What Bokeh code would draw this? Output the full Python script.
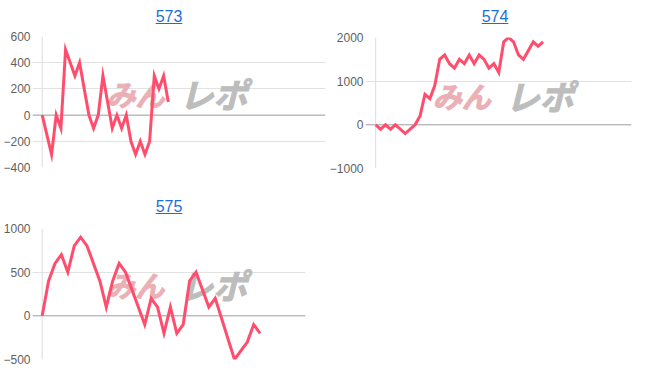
from bokeh.plotting import figure
from bokeh.models import Range1d, FixedTicker, Span, Label, Div
from bokeh.layouts import column, row
from bokeh.embed import file_html
from bokeh.resources import INLINE

# ---------------- data ----------------
titles = ["573", "574", "575"]

x573 = [0, 2, 3, 4, 5, 7, 8, 10, 11, 12, 13, 15, 16, 17, 18, 19, 20, 21, 22, 23, 24, 25, 26, 27]
y573 = [0, -300, 0, -100, 500, 300, 400, 0, -100, 0, 300, -100, 0, -100, 0, -200, -300, -200, -300, -200, 300, 200, 300, 100]
ticks573 = [-400, -200, 0, 200, 400, 600]

x574 = [0, 1, 2, 3, 4, 6, 7, 8, 9, 10, 11, 12, 13, 14, 15, 16, 17, 18, 19, 20, 21, 22, 23, 24, 25, 26, 27, 28, 29, 30, 32, 33, 34]
y574 = [0, -100, 0, -100, 0, -200, -100, 0, 200, 700, 600, 900, 1500, 1600, 1400, 1300, 1500, 1400, 1600, 1400, 1600, 1500, 1300, 1400, 1200, 1900, 2000, 1900, 1600, 1500, 1900, 1800, 1900]
ticks574 = [-1000, 0, 1000, 2000]

x575 = [0, 1, 2, 3, 4, 5, 6, 7, 8, 9, 10, 11, 12, 13, 14, 15, 16, 17, 18, 19, 20, 21, 22, 23, 24, 26, 27, 30, 32, 33, 34]
y575 = [0, 400, 600, 700, 500, 800, 900, 800, 600, 400, 100, 400, 600, 500, 300, 100, -100, 200, 100, -200, 100, -200, -100, 400, 500, 100, 200, -500, -300, -100, -200]
ticks575 = [-500, 0, 500, 1000]

LINE = "#ff4d6d"
GRID = "#e2e2e2"
ZERO = "#a6a6a6"
LABEL = "#5f5f5f"


def title_div(t):
    html = (
        '<div style="width:326px;height:30px;box-sizing:border-box;text-align:center;'
        'padding-left:12px;padding-top:6px;">'
        '<a href="#" style="font-family:\'Liberation Sans\',Arial,sans-serif;font-size:16px;'
        f'color:#1a6fd6;text-decoration:underline;">{t}</a></div>'
    )
    return Div(text=html, width=326, height=30, margin=0)


def make_chart(xs, ys, ticks, xr, height, left, right, top, wm):
    ymin, ymax = min(ticks), max(ticks)
    p = figure(width=326, height=height, x_range=Range1d(*xr), y_range=Range1d(ymin, ymax),
               output_backend="svg", toolbar_location=None, x_axis_location=None,
               min_border_left=left, min_border_right=right, min_border_top=top,
               min_border_bottom=height - top - 131)
    p.outline_line_color = None
    p.background_fill_color = "white"
    p.border_fill_color = "white"
    p.xgrid.visible = False
    p.ygrid.grid_line_color = GRID
    yaxis = p.yaxis[0]
    yaxis.ticker = FixedTicker(ticks=ticks)
    yaxis.axis_line_color = None
    yaxis.major_tick_line_color = None
    yaxis.minor_tick_line_color = None
    yaxis.major_tick_out = 0
    yaxis.minor_tick_out = 0
    yaxis.major_tick_in = 0
    yaxis.minor_tick_in = 0
    yaxis.major_label_standoff = 2
    yaxis.major_label_text_color = LABEL
    yaxis.major_label_text_font = "Liberation Sans"
    yaxis.major_label_text_font_size = "12px"

    p.add_layout(Span(location=0, dimension="height", line_color="#dcdcdc", line_width=1, level="underlay"))
    p.add_layout(Span(location=0, dimension="width", line_color=ZERO, line_width=1, level="underlay"))

    wx, wy = wm
    p.add_layout(Label(x=wx, y=wy, x_offset=-2, text="みん", text_font="Noto Sans CJK JP", text_font_size="29px",
                       text_font_style="bold italic", text_color="#eab0b5",
                       text_outline_color="#eab0b5",
                       text_baseline="middle", level="underlay"))
    p.add_layout(Label(x=wx, y=wy, x_offset=71, text="レポ", text_font="Noto Sans CJK JP", text_font_size="34px",
                       text_font_style="bold italic", text_color="#bdbdbd",
                       text_outline_color="#bdbdbd",
                       text_baseline="middle", level="underlay"))

    p.line(xs, ys, line_color=LINE, line_width=3, line_join="miter")
    return p


p573 = make_chart(x573, y573, ticks573, (-2.08, 60.66), 160, 32, 1, 6, (14.2, 168))
p574 = make_chart(x574, y574, ticks574, (-2.07, 51.95), 160, 36, 21, 7, (12.0, 677))
p575 = make_chart(x575, y575, ticks575, (-1.51, 41.08), 162, 32, 21, 8, (10.3, 359))

layout = column(
    row(column(title_div(titles[0]), p573, spacing=0), column(title_div(titles[1]), p574, spacing=0), spacing=0),
    column(title_div(titles[2]), p575, spacing=0),
    spacing=0,
)

open("out.html", "w").write(file_html(layout, INLINE))
